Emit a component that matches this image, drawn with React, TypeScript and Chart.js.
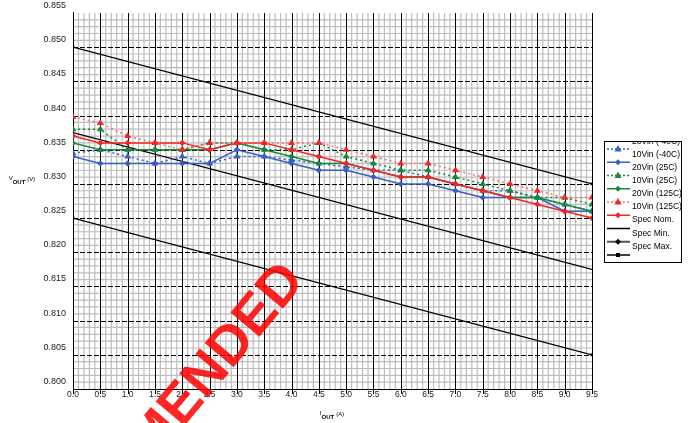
import React, { useEffect, useRef } from 'react';
import { Chart, registerables } from 'chart.js';
Chart.register(...registerables);

// ---- data ----
const ioutValues = [0, 0.5, 1.0, 1.5, 2.0, 2.5, 3.0, 3.5, 4.0, 4.5, 5.0, 5.5, 6.0, 6.5, 7.0, 7.5, 8.0, 8.5, 9.0, 9.5];

const blueDotted = [0.8345, 0.835, 0.834, 0.833, 0.834, 0.833, 0.834, 0.834, 0.8335, 0.833, 0.8325, 0.832, 0.832, 0.831, 0.830, 0.829, 0.829, 0.828, 0.827, 0.826];
const blueSolid = [0.834, 0.833, 0.833, 0.833, 0.833, 0.833, 0.835, 0.834, 0.833, 0.832, 0.832, 0.831, 0.830, 0.830, 0.829, 0.828, 0.828, 0.828, 0.826, 0.826];
const greenDotted = [0.838, 0.838, 0.835, 0.835, 0.835, 0.836, 0.836, 0.835, 0.835, 0.836, 0.834, 0.833, 0.832, 0.832, 0.831, 0.830, 0.829, 0.828, 0.828, 0.827];
const greenSolid = [0.836, 0.835, 0.835, 0.835, 0.835, 0.835, 0.836, 0.835, 0.834, 0.833, 0.833, 0.832, 0.831, 0.831, 0.830, 0.829, 0.828, 0.828, 0.827, 0.826];
const redDotted = [0.8398, 0.8389, 0.837, 0.836, 0.835, 0.836, 0.836, 0.836, 0.836, 0.836, 0.835, 0.834, 0.833, 0.833, 0.832, 0.831, 0.830, 0.829, 0.828, 0.828];
const redSolid = [0.837, 0.836, 0.836, 0.836, 0.836, 0.835, 0.836, 0.836, 0.835, 0.834, 0.833, 0.832, 0.831, 0.831, 0.830, 0.829, 0.828, 0.827, 0.826, 0.825];

const specX = [0, 9.5];
const specNom = [0.8375, 0.8175];
const specMin = [0.825, 0.805];
const specMax = [0.850, 0.830];

const xTickValues = [0, 0.5, 1.0, 1.5, 2.0, 2.5, 3.0, 3.5, 4.0, 4.5, 5.0, 5.5, 6.0, 6.5, 7.0, 7.5, 8.0, 8.5, 9.0, 9.5];
const yTickValues = [0.800, 0.805, 0.810, 0.815, 0.820, 0.825, 0.830, 0.835, 0.840, 0.845, 0.850, 0.855];

const legendLabels = ['20Vin (-40C)', '10Vin (-40C)', '20Vin (25C)', '10Vin (25C)', '20Vin (125C)', '10Vin (125C)', 'Spec Nom.', 'Spec Min.', 'Spec Max.'];

const BLUE = '#3a5fc4';
const GREEN = '#17883a';
const RED = '#f42424';
const RED_DOT = '#ff6b6b';
const FONT = '"Liberation Sans", Arial, sans-serif';

const pts = (xs: number[], ys: number[]) => ys.map((y, i) => ({ x: xs[i], y }));

const gridPlugin = {
  id: 'customGrid',
  beforeDatasetsDraw(chart: any) {
    const { ctx, chartArea: a, scales } = chart;
    const xs = scales.x, ys = scales.y;
    ctx.save();
    ctx.strokeStyle = '#bdbdbd';
    ctx.lineWidth = 1.2;
    for (let i = 1; i < 95; i++) {
      if (i % 5 === 0) continue;
      const x = xs.getPixelForValue(i * 0.1);
      ctx.beginPath(); ctx.moveTo(x, a.top); ctx.lineTo(x, a.bottom); ctx.stroke();
    }
    for (let j = 1; j < 55; j++) {
      if (j % 5 === 0) continue;
      const y = ys.getPixelForValue(0.8 + j * 0.001);
      ctx.beginPath(); ctx.moveTo(a.left, y); ctx.lineTo(a.right, y); ctx.stroke();
    }
    ctx.strokeStyle = '#000';
    ctx.lineWidth = 1;
    ctx.setLineDash([5, 2]);
    for (let j = 1; j < 11; j++) {
      const y = Math.round(ys.getPixelForValue(0.8 + j * 0.005)) + 0.5;
      ctx.beginPath(); ctx.moveTo(a.left, y); ctx.lineTo(a.right, y); ctx.stroke();
    }
    ctx.setLineDash([]);
    for (let i = 0; i <= 19; i++) {
      const x = Math.round(xs.getPixelForValue(i * 0.5)) + 0.5;
      ctx.beginPath(); ctx.moveTo(x, a.top); ctx.lineTo(x, a.bottom + 5); ctx.stroke();
    }
    const bx = Math.round(a.left) + 0.5;
    ctx.beginPath(); ctx.moveTo(bx, a.top - 1); ctx.lineTo(bx, a.bottom); ctx.stroke();
    const by = Math.round(a.bottom) + 0.5;
    ctx.beginPath(); ctx.moveTo(a.left, by); ctx.lineTo(a.right, by); ctx.stroke();
    ctx.restore();
  },
};

function drawMarker(ctx: CanvasRenderingContext2D, kind: string, x: number, y: number, color: string) {
  ctx.fillStyle = color;
  ctx.beginPath();
  if (kind === 'tri') {
    ctx.moveTo(x, y - 4); ctx.lineTo(x + 3.5, y + 2.5); ctx.lineTo(x - 3.5, y + 2.5); ctx.closePath();
  } else if (kind === 'dia') {
    ctx.moveTo(x, y - 3); ctx.lineTo(x + 3, y); ctx.lineTo(x, y + 3); ctx.lineTo(x - 3, y); ctx.closePath();
  } else if (kind === 'sq') {
    ctx.rect(x - 2, y - 2, 4, 4);
  }
  ctx.fill();
}

const legendPlugin = {
  id: 'customLegend',
  afterDraw(chart: any) {
    const ctx: CanvasRenderingContext2D = chart.ctx;
    const L = 604, T = 141, R = 681, B = 262;
    ctx.save();
    ctx.fillStyle = '#fff';
    ctx.fillRect(L, T, R - L, B - T);
    ctx.strokeStyle = '#000';
    ctx.lineWidth = 1;
    ctx.strokeRect(L + 0.5, T + 0.5, R - L, B - T);
    ctx.beginPath(); ctx.rect(L + 1, T + 1, 200, B - T - 1); ctx.clip();
    const swatches = [
      { c: BLUE, dash: [2, 2], m: 'tri' },
      { c: BLUE, dash: [], m: 'dia' },
      { c: GREEN, dash: [2, 2], m: 'tri' },
      { c: GREEN, dash: [], m: 'dia' },
      { c: RED_DOT, dash: [2, 2], m: 'tri', mc: RED },
      { c: RED, dash: [], m: 'dia' },
      { c: '#000', dash: [], m: '' },
      { c: '#555', dash: [], m: 'dia', mc: '#000' },
      { c: '#000', dash: [], m: 'sq' },
    ];
    swatches.forEach((s: any, i) => {
      const y = 149 + i * 13.25;
      ctx.strokeStyle = s.c;
      ctx.lineWidth = s.c === '#555' ? 2 : 1.5;
      ctx.setLineDash(s.dash);
      ctx.beginPath(); ctx.moveTo(607, y); ctx.lineTo(630, y); ctx.stroke();
      ctx.setLineDash([]);
      if (s.m) drawMarker(ctx, s.m, 618, y, s.mc || s.c);
    });
    ctx.fillStyle = '#000';
    ctx.font = `8.5px ${FONT}`;
    ctx.textBaseline = 'middle';
    ctx.textAlign = 'left';
    legendLabels.forEach((t, i) => {
      ctx.fillText(t, 632, 141.5 + i * 13.1);
    });
    ctx.restore();
  },
};

const titlesPlugin = {
  id: 'axisTitles',
  afterDraw(chart: any) {
    const ctx: CanvasRenderingContext2D = chart.ctx;
    ctx.save();
    ctx.fillStyle = '#000';
    ctx.textBaseline = 'alphabetic';
    ctx.textAlign = 'left';
    const drawTitle = (first: string, unit: string, cx: number, cy: number) => {
      ctx.font = `bold 6px ${FONT}`;
      const wOut = ctx.measureText('OUT').width;
      ctx.font = `6px ${FONT}`;
      const wF = ctx.measureText(first).width;
      const wU = ctx.measureText(unit).width;
      const total = wF + wOut + 2 + wU;
      let x = cx - total / 2;
      ctx.font = `6px ${FONT}`;
      ctx.fillText(first, x, cy - 2);
      x += wF;
      ctx.font = `bold 6px ${FONT}`;
      ctx.fillText('OUT', x, cy + 2);
      x += wOut + 2;
      ctx.font = `6px ${FONT}`;
      ctx.fillText(unit, x, cy - 1);
    };
    drawTitle('V', '(V)', 22, 182);
    drawTitle('I', '(A)', 332, 417);
    ctx.restore();
  },
};

const watermarkPlugin = {
  id: 'watermark',
  afterDraw(chart: any) {
    const ctx: CanvasRenderingContext2D = chart.ctx;
    ctx.save();
    ctx.translate(306, 281);
    ctx.rotate(-50 * Math.PI / 180);
    ctx.font = `bold 55px ${FONT}`;
    ctx.fillStyle = 'rgba(255, 0, 0, 0.85)';
    ctx.textAlign = 'right';
    ctx.textBaseline = 'alphabetic';
    ctx.fillText('NOT RECOMMENDED', 0, 0);
    ctx.restore();
  },
};

function lineDs(label: string, data: number[], color: string, dotted: boolean, marker: string, order: number, pointColor?: string) {
  return {
    label,
    data: pts(ioutValues, data),
    borderColor: color,
    backgroundColor: pointColor || color,
    borderWidth: 1.5,
    borderDash: dotted ? [2, 3] : [],
    pointStyle: marker,
    pointRadius: marker === 'triangle' ? 4 : 3.2,
    pointBorderWidth: 0,
    pointBackgroundColor: pointColor || color,
    pointBorderColor: pointColor || color,
    tension: 0,
    order,
  };
}

function specDs(label: string, data: number[], withMarker: boolean, order: number) {
  return {
    label,
    data: pts(specX, data),
    borderColor: '#000',
    backgroundColor: '#000',
    borderWidth: 1.2,
    pointStyle: 'rect',
    pointRadius: withMarker ? 2 : 0,
    pointBorderWidth: 0,
    order,
  };
}

export default function App() {
  const ref = useRef<HTMLCanvasElement>(null);
  useEffect(() => {
    document.body.style.margin = '0';
    const chart = new Chart(ref.current as HTMLCanvasElement, {
      type: 'line',
      data: {
        datasets: [
          lineDs('10Vin (125C)', redDotted, RED_DOT, true, 'triangle', 1, RED),
          lineDs('Spec Nom. red', redSolid, RED, false, 'rectRot', 2),
          lineDs('10Vin (25C)', greenDotted, GREEN, true, 'triangle', 3),
          lineDs('20Vin (125C)', greenSolid, GREEN, false, 'rectRot', 4),
          lineDs('20Vin (-40C)', blueDotted, BLUE, true, 'triangle', 5),
          lineDs('10Vin (-40C)', blueSolid, BLUE, false, 'rectRot', 6),
          specDs('Spec Nom.', specNom, false, 7),
          specDs('Spec Min.', specMin, true, 8),
          specDs('Spec Max.', specMax, true, 9),
        ] as any,
      },
      options: {
        responsive: false,
        animation: false,
        devicePixelRatio: 1,
        layout: { padding: { left: 0, right: 104, top: 13, bottom: 0 } },
        plugins: { legend: { display: false }, tooltip: { enabled: false } },
        scales: {
          x: {
            type: 'linear',
            min: 0,
            max: 9.5,
            afterBuildTicks: (s: any) => { s.ticks = xTickValues.map((v) => ({ value: v })); },
            afterFit: (s: any) => { s.height = 34; },
            grid: { display: false, drawTicks: false },
            border: { display: false },
            ticks: {
              autoSkip: false,
              maxRotation: 0,
              padding: 1,
              color: '#222',
              font: { size: 8.5, family: FONT },
              callback: (v: any) => Number(v).toFixed(1),
            },
          },
          y: {
            type: 'linear',
            min: 0.8,
            max: 0.855,
            afterBuildTicks: (s: any) => { s.ticks = yTickValues.map((v) => ({ value: v })); },
            afterFit: (s: any) => { s.width = 73; },
            grid: { display: false, drawTicks: false },
            border: { display: false },
            ticks: {
              autoSkip: false,
              padding: 7,
              labelOffset: -7.5,
              color: '#222',
              font: { size: 9, family: FONT },
              callback: (v: any) => Number(v).toFixed(3),
            },
          },
        },
      } as any,
      plugins: [gridPlugin, legendPlugin, titlesPlugin, watermarkPlugin],
    });
    return () => chart.destroy();
  }, []);
  return (
    <div style={{ position: 'fixed', left: 0, top: 0, width: 696, height: 423, background: '#fff' }}>
      <canvas ref={ref} width={696} height={423} style={{ display: 'block', width: 696, height: 423 }} />
    </div>
  );
}
